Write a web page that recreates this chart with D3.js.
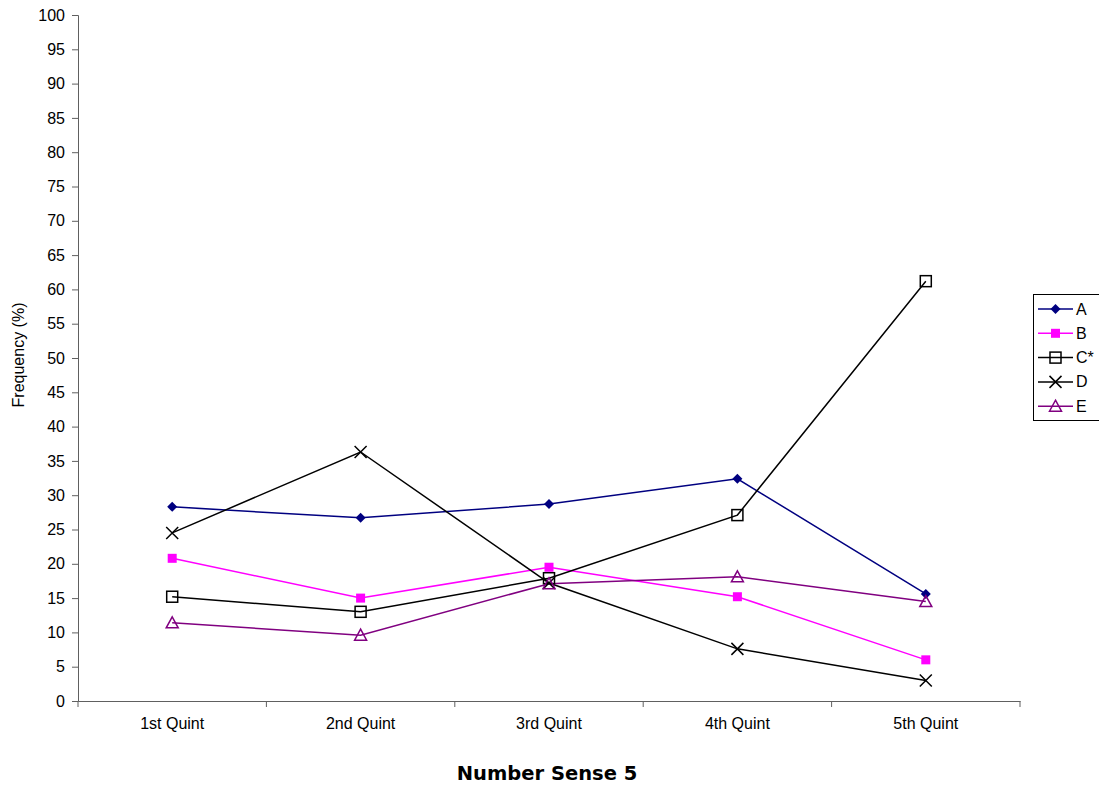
<!DOCTYPE html>
<html><head><meta charset="utf-8">
<script src="https://cdn.jsdelivr.net/npm/d3@7"></script>
<style>body{margin:0;background:#fff}svg{display:block}</style>
</head><body>
<svg id="c" width="1099" height="787"></svg>
<script>
const categories = ["1st Quint","2nd Quint","3rd Quint","4th Quint","5th Quint"];
const seriesNames = ["A","B","C*","D","E"];
const valuesA = [28.3, 26.7, 28.7, 32.4, 15.6];
const valuesB = [20.8, 15.0, 19.5, 15.2, 6.0];
const valuesC = [15.2, 13.0, 17.9, 27.1, 61.2];
const valuesD = [24.5, 36.3, 17.2, 7.6, 3.0];
const valuesE = [11.4, 9.6, 17.1, 18.1, 14.5];
const yTicks = d3.range(0, 101, 5);

const series = [
  {name: seriesNames[0], values: valuesA, color: "#000080", marker: "diamond"},
  {name: seriesNames[1], values: valuesB, color: "#FF00FF", marker: "squareFill"},
  {name: seriesNames[2], values: valuesC, color: "#000000", marker: "squareOpen"},
  {name: seriesNames[3], values: valuesD, color: "#000000", marker: "x"},
  {name: seriesNames[4], values: valuesE, color: "#800080", marker: "triangle"}
];

const svg = d3.select("#c");
const L = 78, R = 1020, T = 15, B = 701;
const x = d3.scaleBand().domain(categories).range([L, R]);
const y = d3.scaleLinear().domain([0, 100]).range([B, T]);
const axisColor = "#606060";
const font = "Liberation Sans, Arial, sans-serif";

// Y axis
const ya = svg.append("g").attr("transform", `translate(${L},0)`)
  .call(d3.axisLeft(y).tickValues(yTicks).tickSize(6).tickPadding(7));
ya.select(".domain").attr("stroke", axisColor);
ya.selectAll(".tick line").attr("stroke", axisColor);
ya.selectAll("text").attr("font-family", font).attr("font-size", 16).attr("fill", "#000");

// X axis
const xa = svg.append("g").attr("transform", `translate(0,${B})`)
  .call(d3.axisBottom(x).tickSize(0).tickPadding(17));
xa.select(".domain").attr("stroke", axisColor);
xa.selectAll(".tick line").remove();
xa.selectAll("text").attr("font-family", font).attr("font-size", 16).attr("fill", "#000");
// band boundary ticks
const bounds = categories.map(c => x(c)).concat([R]);
svg.append("g").selectAll("line").data(bounds).join("line")
  .attr("x1", d => d).attr("x2", d => d).attr("y1", B).attr("y2", B + 6)
  .attr("stroke", axisColor);

// titles
svg.append("text").attr("transform", `translate(24,355) rotate(-90)`)
  .attr("text-anchor", "middle").attr("font-family", font).attr("font-size", 16)
  .text("Frequency (%)");
svg.append("text").attr("x", 547).attr("y", 780).attr("text-anchor", "middle")
  .attr("font-family", "DejaVu Sans, Verdana, sans-serif").attr("font-weight", "bold")
  .attr("font-size", 19.5).text("Number Sense 5");

function drawMarker(g, type, color) {
  if (type === "diamond") {
    g.append("path").attr("d", "M0,-5L5,0L0,5L-5,0Z").attr("fill", color);
  } else if (type === "squareFill") {
    g.append("rect").attr("x", -4.5).attr("y", -4.5).attr("width", 9).attr("height", 9).attr("fill", color);
  } else if (type === "squareOpen") {
    g.append("rect").attr("x", -5.5).attr("y", -5.5).attr("width", 11).attr("height", 11)
      .attr("fill", "none").attr("stroke", color).attr("stroke-width", 1.5);
  } else if (type === "x") {
    g.append("path").attr("d", "M-6,-6L6,6M-6,6L6,-6").attr("stroke", color).attr("stroke-width", 1.5);
  } else if (type === "triangle") {
    g.append("path").attr("d", "M0,-6L6,5L-6,5Z").attr("fill", "none")
      .attr("stroke", color).attr("stroke-width", 1.5);
  }
}

const line = d3.line().x((d, i) => x(categories[i]) + x.bandwidth()/2).y(d => y(d));
series.forEach(s => {
  svg.append("path").datum(s.values).attr("d", line).attr("fill", "none")
    .attr("stroke", s.color).attr("stroke-width", 1.5);
});
series.forEach(s => {
  s.values.forEach((v, i) => {
    const g = svg.append("g").attr("transform", `translate(${x(categories[i]) + x.bandwidth()/2},${y(v)})`);
    drawMarker(g, s.marker, s.color);
  });
});

// Legend
const lg = svg.append("g");
lg.append("rect").attr("x", 1033.5).attr("y", 294.5).attr("width", 70).attr("height", 126)
  .attr("fill", "#fff").attr("stroke", "#000").attr("stroke-width", 1);
series.forEach((s, i) => {
  const yy = 309 + i * 24.3;
  lg.append("line").attr("x1", 1038).attr("x2", 1073).attr("y1", yy).attr("y2", yy)
    .attr("stroke", s.color).attr("stroke-width", 1.5);
  drawMarker(lg.append("g").attr("transform", `translate(1055.5,${yy})`), s.marker, s.color);
  lg.append("text").attr("x", 1076).attr("y", yy + 5.5).attr("font-family", font)
    .attr("font-size", 16).text(s.name);
});
</script>
</body></html>
